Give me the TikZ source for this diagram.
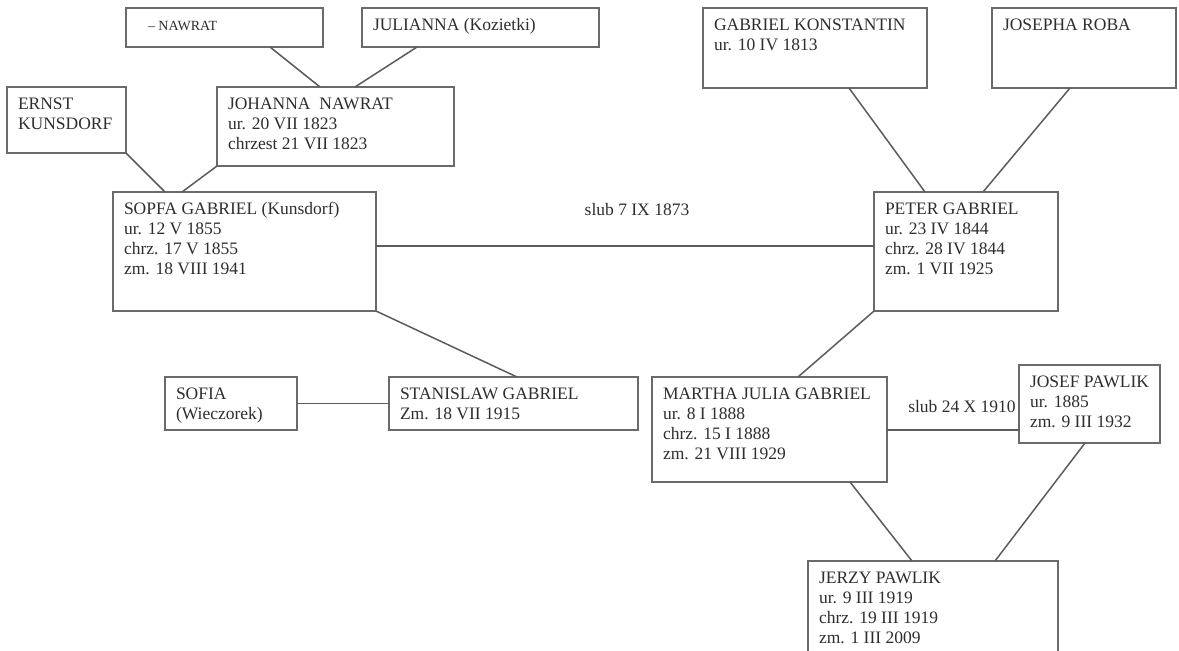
\documentclass[tikz,border=0pt]{standalone}
\usepackage{fontspec}
\setmainfont{Liberation Serif}
\usetikzlibrary{calc}
\definecolor{txtcol}{HTML}{2E2E2E}
\definecolor{boxcol}{HTML}{6A6A6A}
\definecolor{linecol}{HTML}{5C5C5C}
\tikzset{
  fambox/.style={draw=boxcol, line width=1.3pt, fill=white, anchor=north west,
    inner xsep=11pt, inner ysep=8pt, outer sep=0pt, text=txtcol,
    font=\fontsize{17.5}{20}\selectfont},
  kin/.style={draw=linecol, line width=1.5pt},
  marr/.style={text=txtcol, font=\fontsize{17.5}{20}\selectfont, inner sep=0pt}
}
% name, x, y, width, height, text
\newcommand{\famnode}[6]{%
  \node[fambox, minimum width=#4pt, minimum height=#5pt] (#1) at (#2,#3)
    {\parbox[t][\dimexpr#5pt-16pt\relax][t]{\dimexpr#4pt-22pt\relax}{\raggedright\strut #6}};}
\begin{document}
\begin{tikzpicture}[x=1pt,y=-1pt]
\clip (0,0) rectangle (1179,651);
\fill[white] (0,0) rectangle (1179,651);

\famnode{nawrat}{126}{8}{197}{39}{\hspace*{11pt}{\fontsize{14}{20}\selectfont -- NAWRAT}}
\famnode{julianna}{362}{8}{237}{39}{JULIANNA (Kozietki)}
\famnode{ernst}{7}{87}{119}{66}{ERNST\\KUNSDORF}
\famnode{johanna}{217}{87}{237}{79}{JOHANNA\ \ NAWRAT\\ur. 20 VII 1823\\chrzest 21 VII 1823}
\famnode{sopfa}{113}{192}{263}{119}{SOPFA GABRIEL (Kunsdorf)\\ur. 12 V 1855\\chrz. 17 V 1855\\zm. 18 VIII 1941}
\famnode{gk}{703}{8}{224}{80}{GABRIEL KONSTANTIN\\ur. 10 IV 1813}
\famnode{roba}{992}{8}{184}{80}{JOSEPHA ROBA}
\famnode{peter}{874}{192}{184}{119}{PETER GABRIEL\\ur. 23 IV 1844\\chrz. 28 IV 1844\\zm. 1 VII 1925}
\famnode{sofia}{165}{377}{132}{53}{SOFIA\\(Wieczorek)}
\famnode{stan}{389}{377}{249}{53}{STANISLAW GABRIEL\\Zm. 18 VII 1915}
\famnode{martha}{652}{377}{235}{105}{MARTHA JULIA GABRIEL\\ur. 8 I 1888\\chrz. 15 I 1888\\zm. 21 VIII 1929}
\famnode{josef}{1019}{365}{141}{78}{JOSEF PAWLIK\\ur. 1885\\zm. 9 III 1932}
\famnode{jerzy}{808}{561}{250}{120}{JERZY PAWLIK\\ur. 9 III 1919\\chrz. 19 III 1919\\zm. 1 III 2009}

% parent links
\draw[kin] ([xshift=144pt]nawrat.south west) -- ([xshift=103pt]johanna.north west);
\draw[kin] ([xshift=55pt]julianna.south west) -- ([xshift=138pt]johanna.north west);
\draw[kin] (ernst.south east) -- ([xshift=52pt]sopfa.north west);
\draw[kin] (johanna.south west) -- ([xshift=69pt]sopfa.north west);
\draw[kin] ([xshift=146pt]gk.south west) -- ([xshift=51pt]peter.north west);
\draw[kin] ([xshift=78pt]roba.south west) -- ([xshift=109pt]peter.north west);
\draw[kin] (sopfa.south east) -- ([xshift=128pt]stan.north west);
\draw[kin] (peter.south west) -- ([xshift=-89pt]martha.north east);
\draw[kin] ([xshift=198pt]martha.south west) -- ([xshift=104pt]jerzy.north west);
\draw[kin] ([xshift=66pt]josef.south west) -- ([xshift=187pt]jerzy.north west);

% marriages
\coordinate (m1) at ([yshift=-54pt]sopfa.north east);
\draw[kin] (m1) -- (m1 -| peter.west);
\draw[kin] (sofia.east) -- (stan.west);
\coordinate (m2) at ([yshift=-53pt]martha.north east);
\draw[kin] (m2) -- (m2 -| josef.west);

\node[marr] (l1) at (637,210) {slub 7 IX 1873};
\node[marr] (l2) at (962,407) {slub 24 X 1910};
\end{tikzpicture}
\end{document}
